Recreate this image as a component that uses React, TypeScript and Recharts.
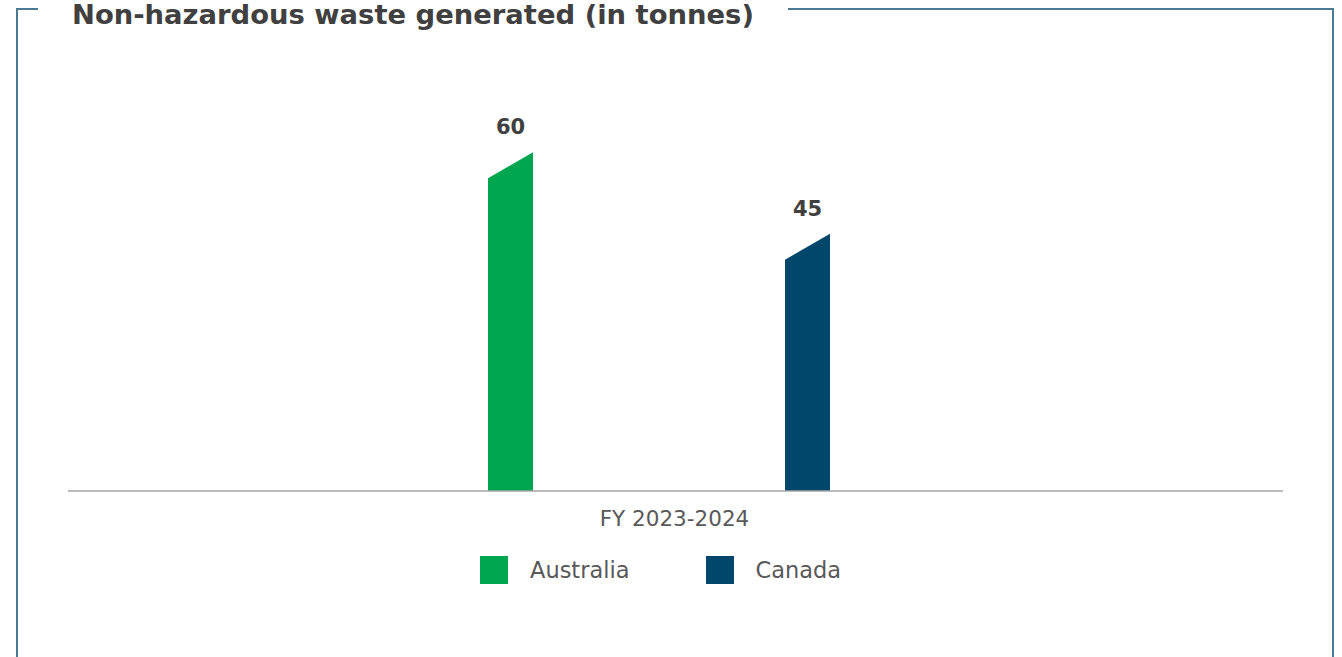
import { BarChart, Bar, XAxis, YAxis, Legend, LabelList } from "recharts"

const categories = ["FY 2023-2024"]
const australia = [60]
const canada = [45]
const seriesNames = ["Australia", "Canada"]
const seriesColors = ["#00A650", "#00476B"]

const data = categories.map((category, i) => ({
  category,
  Australia: australia[i],
  Canada: canada[i],
}))

const textColor = "#595959"

// bar with a slanted top, rising to the right
function SlantBar(props: any) {
  const { x, y, width, height, fill } = props
  if (width == null || height == null) return null
  const slant = 13
  const bottom = y + height
  const points = `${x},${bottom} ${x},${y + slant} ${x + width},${y - slant} ${x + width},${bottom}`
  return <polygon points={points} fill={fill} />
}

function ValueLabel(props: any) {
  const { x, y, width, value } = props
  return (
    <text
      x={x + width / 2}
      y={y - 38}
      textAnchor="middle"
      dominantBaseline="central"
      fill="#404040"
      fontSize={21}
      fontWeight="bold"
      fontFamily="'DejaVu Sans', sans-serif"
    >
      {value}
    </text>
  )
}

function CategoryTick(props: any) {
  const { x, y, payload } = props
  return (
    <text
      x={x + 16}
      y={y + 19}
      textAnchor="middle"
      dominantBaseline="central"
      fill={textColor}
      fontSize={21.5}
      fontFamily="'DejaVu Sans', sans-serif"
    >
      {payload.value}
    </text>
  )
}

function LegendContent() {
  return (
    <div style={{ display: "flex", justifyContent: "flex-start", paddingLeft: 480 }}>
      {seriesNames.map((name, i) => (
        <div key={name} style={{ display: "flex", alignItems: "center", marginRight: 76 }}>
          <span style={{ width: 28, height: 28, background: seriesColors[i], display: "inline-block" }} />
          <span
            style={{
              marginLeft: 22,
              fontSize: 22.5,
              lineHeight: "30px",
              color: textColor,
              fontFamily: "'DejaVu Sans', sans-serif",
            }}
          >
            {name}
          </span>
        </div>
      ))}
    </div>
  )
}

export default function App() {
  return (
    <div
      style={{
        position: "absolute",
        left: 0,
        top: 0,
        width: 1342,
        height: 657,
        overflow: "hidden",
        background: "#fff",
      }}
    >
      <div
        style={{
          position: "absolute",
          left: 16,
          top: 8,
          width: 1314,
          height: 700,
          border: "2px solid #4B7A95",
          borderBottom: "none",
        }}
      />
      <div
        style={{
          position: "absolute",
          left: 38,
          top: 0,
          padding: "0 34px",
          background: "#fff",
          color: "#404040",
          fontFamily: "'DejaVu Sans', sans-serif",
          fontWeight: "bold",
          fontSize: 27.4,
          lineHeight: "30px",
          whiteSpace: "nowrap",
        }}
      >
        Non-hazardous waste generated (in tonnes)
      </div>
      <div style={{ position: "absolute", left: 0, top: 0 }}>
        <BarChart
          width={1342}
          height={657}
          data={data}
          margin={{ top: 111, right: 59, left: 68, bottom: 136 }}
          barSize={45}
          barGap={252}
        >
          <XAxis
            dataKey="category"
            height={30}
            axisLine={{ stroke: "#A6A6A6", strokeWidth: 1.5 }}
            tickLine={false}
            tick={<CategoryTick />}
            padding={{ left: 0, right: 34 }}
          />
          <YAxis hide domain={[0, 70]} />
          <Legend
            verticalAlign="middle"
            layout="horizontal"
            align="center"
            content={<LegendContent />}
            wrapperStyle={{ top: 555, left: 0, width: 1342 }}
          />
          {seriesNames.map((name, i) => (
            <Bar
              key={name}
              dataKey={name}
              fill={seriesColors[i]}
              shape={<SlantBar />}
              isAnimationActive={false}
            >
              <LabelList dataKey={name} content={<ValueLabel />} />
            </Bar>
          ))}
        </BarChart>
      </div>
    </div>
  )
}
